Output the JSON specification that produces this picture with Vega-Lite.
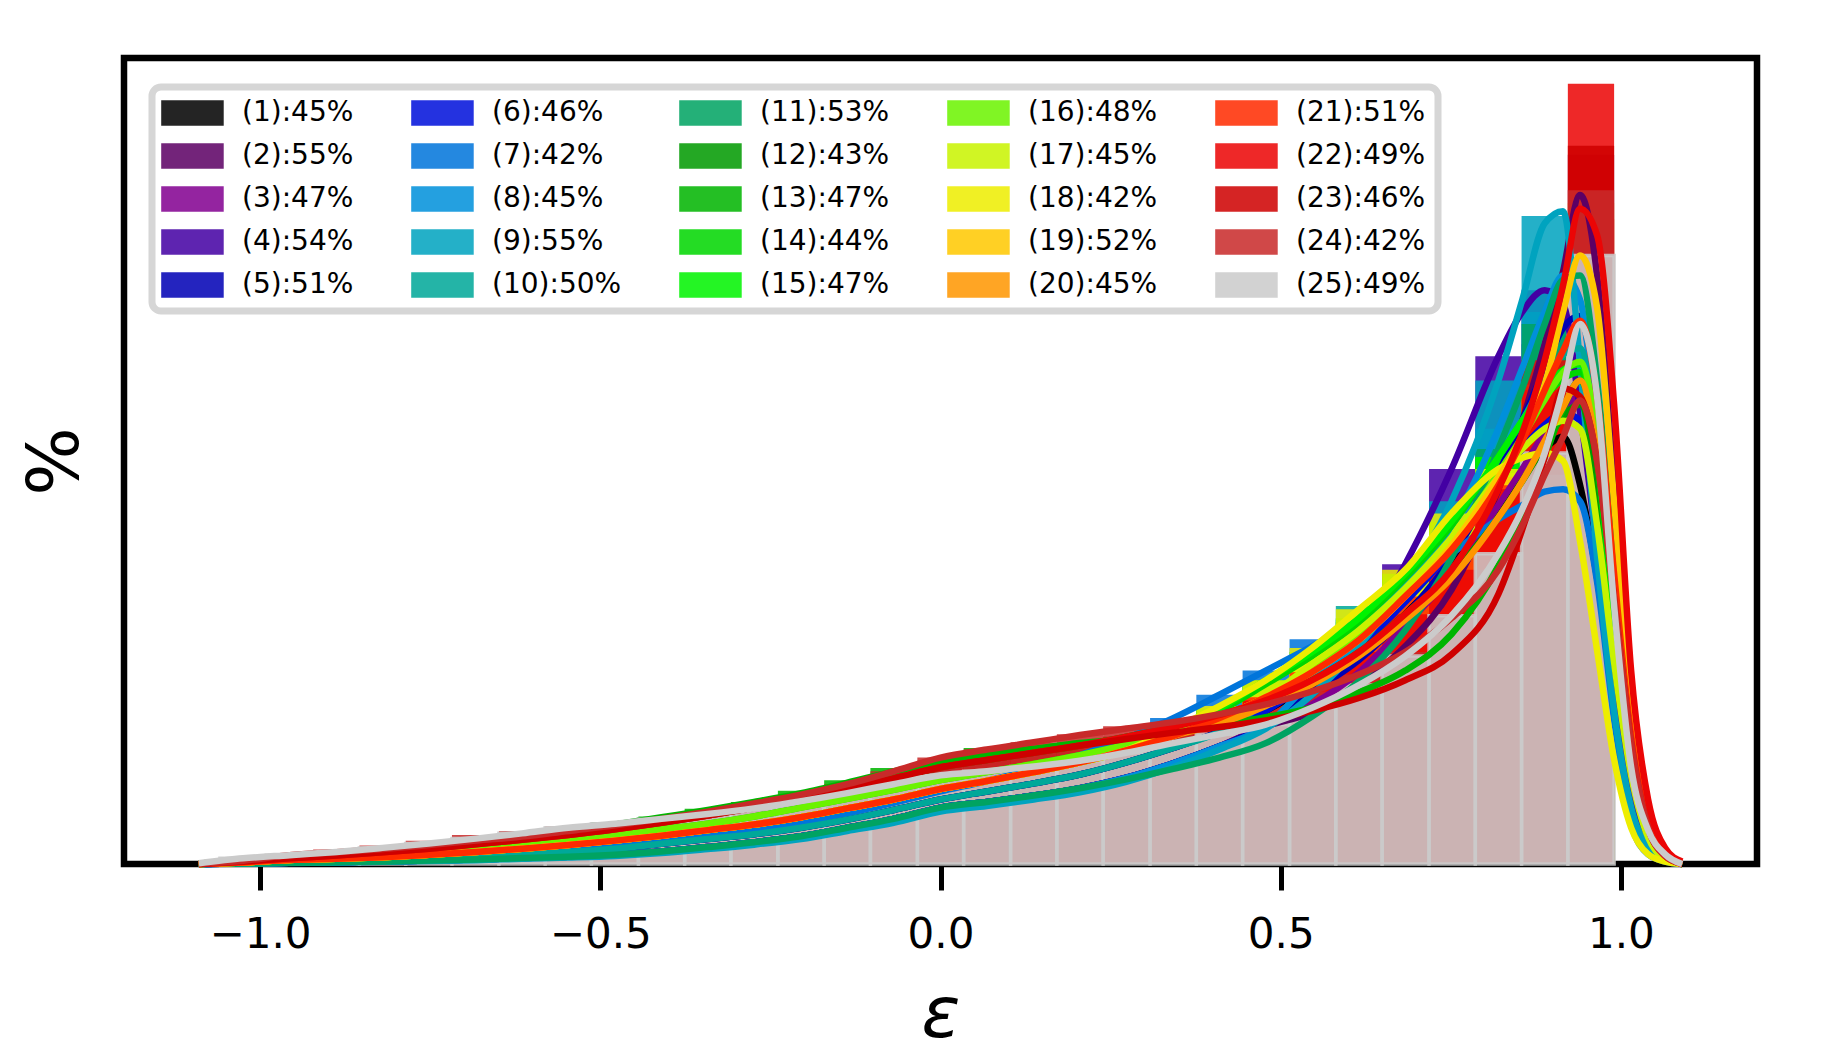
{
  "$schema": "https://vega.github.io/schema/vega-lite/v6.json",
  "width": 1633,
  "height": 806,
  "autosize": {"type": "none"},
  "padding": {"left": 124, "top": 58, "right": 91, "bottom": 192},
  "background": "white",
  "config": {
    "view": {"stroke": "black", "strokeWidth": 6.5},
    "axis": {"labelFont": "DejaVu Sans", "titleFont": "DejaVu Sans", "labelColor": "black", "titleColor": "black", "grid": false},
    "legend": {"strokeWidth": 7}
  },
  "datasets": {
    "series": [
      {"s":1,"label":"(1):45%"},{"s":2,"label":"(2):55%"},{"s":3,"label":"(3):47%"},{"s":4,"label":"(4):54%"},{"s":5,"label":"(5):51%"},
      {"s":6,"label":"(6):46%"},{"s":7,"label":"(7):42%"},{"s":8,"label":"(8):45%"},{"s":9,"label":"(9):55%"},{"s":10,"label":"(10):50%"},
      {"s":11,"label":"(11):53%"},{"s":12,"label":"(12):43%"},{"s":13,"label":"(13):47%"},{"s":14,"label":"(14):44%"},{"s":15,"label":"(15):47%"},
      {"s":16,"label":"(16):48%"},{"s":17,"label":"(17):45%"},{"s":18,"label":"(18):42%"},{"s":19,"label":"(19):52%"},{"s":20,"label":"(20):45%"},
      {"s":21,"label":"(21):51%"},{"s":22,"label":"(22):49%"},{"s":23,"label":"(23):46%"},{"s":24,"label":"(24):42%"},{"s":25,"label":"(25):49%"}
    ],
    "bins": [
      {"k":0,"x0":-1.059,"x1":-0.991},{"k":1,"x0":-0.991,"x1":-0.922},{"k":2,"x0":-0.922,"x1":-0.854},{"k":3,"x0":-0.854,"x1":-0.786},{"k":4,"x0":-0.786,"x1":-0.718},
      {"k":5,"x0":-0.718,"x1":-0.649},{"k":6,"x0":-0.649,"x1":-0.581},{"k":7,"x0":-0.581,"x1":-0.513},{"k":8,"x0":-0.513,"x1":-0.444},{"k":9,"x0":-0.444,"x1":-0.376},
      {"k":10,"x0":-0.376,"x1":-0.308},{"k":11,"x0":-0.308,"x1":-0.239},{"k":12,"x0":-0.239,"x1":-0.171},{"k":13,"x0":-0.171,"x1":-0.103},{"k":14,"x0":-0.103,"x1":-0.034},
      {"k":15,"x0":-0.034,"x1":0.034},{"k":16,"x0":0.034,"x1":0.103},{"k":17,"x0":0.103,"x1":0.171},{"k":18,"x0":0.171,"x1":0.239},{"k":19,"x0":0.239,"x1":0.308},
      {"k":20,"x0":0.308,"x1":0.376},{"k":21,"x0":0.376,"x1":0.444},{"k":22,"x0":0.444,"x1":0.513},{"k":23,"x0":0.513,"x1":0.581},{"k":24,"x0":0.581,"x1":0.649},
      {"k":25,"x0":0.649,"x1":0.718},{"k":26,"x0":0.718,"x1":0.786},{"k":27,"x0":0.786,"x1":0.854},{"k":28,"x0":0.854,"x1":0.922},{"k":29,"x0":0.922,"x1":0.99}
    ],
    "bars": [
      {"s":1,"k":0,"h":0.1},{"s":1,"k":1,"h":0.25},{"s":1,"k":2,"h":0.35},{"s":1,"k":3,"h":0.5},{"s":1,"k":4,"h":0.75},{"s":1,"k":5,"h":1},{"s":1,"k":6,"h":1.25},{"s":1,"k":7,"h":1.5},{"s":1,"k":8,"h":1.9},{"s":1,"k":9,"h":2.5},{"s":1,"k":10,"h":3.1},{"s":1,"k":11,"h":3.7},{"s":1,"k":12,"h":4.5},{"s":1,"k":13,"h":5.5},{"s":1,"k":14,"h":6.7},{"s":1,"k":15,"h":8},{"s":1,"k":16,"h":9},{"s":1,"k":17,"h":10},{"s":1,"k":18,"h":11.1},{"s":1,"k":19,"h":12.6},{"s":1,"k":20,"h":14.4},{"s":1,"k":21,"h":16.4},{"s":1,"k":22,"h":19},{"s":1,"k":23,"h":22.3},{"s":1,"k":24,"h":25.8},{"s":1,"k":25,"h":31},{"s":1,"k":26,"h":37},{"s":1,"k":27,"h":44},{"s":1,"k":28,"h":51.5},{"s":1,"k":29,"h":50},
      {"s":2,"k":0,"h":0.05},{"s":2,"k":1,"h":0.15},{"s":2,"k":2,"h":0.22},{"s":2,"k":3,"h":0.32},{"s":2,"k":4,"h":0.42},{"s":2,"k":5,"h":0.55},{"s":2,"k":6,"h":0.75},{"s":2,"k":7,"h":0.9},{"s":2,"k":8,"h":1.15},{"s":2,"k":9,"h":1.55},{"s":2,"k":10,"h":2.1},{"s":2,"k":11,"h":2.7},{"s":2,"k":12,"h":3.45},{"s":2,"k":13,"h":4.5},{"s":2,"k":14,"h":5.6},{"s":2,"k":15,"h":7},{"s":2,"k":16,"h":7.7},{"s":2,"k":17,"h":8.5},{"s":2,"k":18,"h":9.4},{"s":2,"k":19,"h":10.7},{"s":2,"k":20,"h":12.5},{"s":2,"k":21,"h":14.6},{"s":2,"k":22,"h":17.1},{"s":2,"k":23,"h":18.8},{"s":2,"k":24,"h":22.3},{"s":2,"k":25,"h":27},{"s":2,"k":26,"h":34},{"s":2,"k":27,"h":46.5},{"s":2,"k":28,"h":64.5},{"s":2,"k":29,"h":88},
      {"s":3,"k":0,"h":0.05},{"s":3,"k":1,"h":0.15},{"s":3,"k":2,"h":0.22},{"s":3,"k":3,"h":0.32},{"s":3,"k":4,"h":0.42},{"s":3,"k":5,"h":0.55},{"s":3,"k":6,"h":0.75},{"s":3,"k":7,"h":0.9},{"s":3,"k":8,"h":1.15},{"s":3,"k":9,"h":1.55},{"s":3,"k":10,"h":2.1},{"s":3,"k":11,"h":2.7},{"s":3,"k":12,"h":3.45},{"s":3,"k":13,"h":4.5},{"s":3,"k":14,"h":5.6},{"s":3,"k":15,"h":7},{"s":3,"k":16,"h":7.7},{"s":3,"k":17,"h":8.5},{"s":3,"k":18,"h":9.4},{"s":3,"k":19,"h":10.7},{"s":3,"k":20,"h":12.5},{"s":3,"k":21,"h":14.6},{"s":3,"k":22,"h":17.1},{"s":3,"k":23,"h":19.8},{"s":3,"k":24,"h":23.8},{"s":3,"k":25,"h":29.5},{"s":3,"k":26,"h":36},{"s":3,"k":27,"h":44.5},{"s":3,"k":28,"h":53.5},{"s":3,"k":29,"h":62},
      {"s":4,"k":0,"h":0.05},{"s":4,"k":1,"h":0.15},{"s":4,"k":2,"h":0.22},{"s":4,"k":3,"h":0.32},{"s":4,"k":4,"h":0.42},{"s":4,"k":5,"h":0.55},{"s":4,"k":6,"h":0.75},{"s":4,"k":7,"h":0.9},{"s":4,"k":8,"h":1.15},{"s":4,"k":9,"h":1.55},{"s":4,"k":10,"h":2.1},{"s":4,"k":11,"h":2.7},{"s":4,"k":12,"h":3.45},{"s":4,"k":13,"h":4.5},{"s":4,"k":14,"h":5.6},{"s":4,"k":15,"h":7},{"s":4,"k":16,"h":7.7},{"s":4,"k":17,"h":8.5},{"s":4,"k":18,"h":9.4},{"s":4,"k":19,"h":10.7},{"s":4,"k":20,"h":12.5},{"s":4,"k":21,"h":14.6},{"s":4,"k":22,"h":17.1},{"s":4,"k":23,"h":21},{"s":4,"k":24,"h":27.5},{"s":4,"k":25,"h":37.2},{"s":4,"k":26,"h":49},{"s":4,"k":27,"h":63},{"s":4,"k":28,"h":71.2},{"s":4,"k":29,"h":55},
      {"s":5,"k":0,"h":0.05},{"s":5,"k":1,"h":0.15},{"s":5,"k":2,"h":0.22},{"s":5,"k":3,"h":0.32},{"s":5,"k":4,"h":0.42},{"s":5,"k":5,"h":0.55},{"s":5,"k":6,"h":0.75},{"s":5,"k":7,"h":0.9},{"s":5,"k":8,"h":1.15},{"s":5,"k":9,"h":1.55},{"s":5,"k":10,"h":2.1},{"s":5,"k":11,"h":2.7},{"s":5,"k":12,"h":3.45},{"s":5,"k":13,"h":4.5},{"s":5,"k":14,"h":5.6},{"s":5,"k":15,"h":7},{"s":5,"k":16,"h":7.7},{"s":5,"k":17,"h":8.5},{"s":5,"k":18,"h":9.4},{"s":5,"k":19,"h":10.7},{"s":5,"k":20,"h":12.5},{"s":5,"k":21,"h":14.6},{"s":5,"k":22,"h":17.1},{"s":5,"k":23,"h":21.3},{"s":5,"k":24,"h":25.3},{"s":5,"k":25,"h":30.8},{"s":5,"k":26,"h":38},{"s":5,"k":27,"h":48.5},{"s":5,"k":28,"h":61.5},{"s":5,"k":29,"h":72},
      {"s":6,"k":0,"h":0.1},{"s":6,"k":1,"h":0.25},{"s":6,"k":2,"h":0.35},{"s":6,"k":3,"h":0.5},{"s":6,"k":4,"h":0.75},{"s":6,"k":5,"h":1},{"s":6,"k":6,"h":1.25},{"s":6,"k":7,"h":1.5},{"s":6,"k":8,"h":1.9},{"s":6,"k":9,"h":2.5},{"s":6,"k":10,"h":3.1},{"s":6,"k":11,"h":3.7},{"s":6,"k":12,"h":4.5},{"s":6,"k":13,"h":5.5},{"s":6,"k":14,"h":6.7},{"s":6,"k":15,"h":8},{"s":6,"k":16,"h":9},{"s":6,"k":17,"h":10},{"s":6,"k":18,"h":11.1},{"s":6,"k":19,"h":12.6},{"s":6,"k":20,"h":14.4},{"s":6,"k":21,"h":16.4},{"s":6,"k":22,"h":19},{"s":6,"k":23,"h":22.8},{"s":6,"k":24,"h":27},{"s":6,"k":25,"h":32.5},{"s":6,"k":26,"h":39},{"s":6,"k":27,"h":47.5},{"s":6,"k":28,"h":54.5},{"s":6,"k":29,"h":58},
      {"s":7,"k":0,"h":0.1},{"s":7,"k":1,"h":0.25},{"s":7,"k":2,"h":0.4},{"s":7,"k":3,"h":0.55},{"s":7,"k":4,"h":0.8},{"s":7,"k":5,"h":1.1},{"s":7,"k":6,"h":1.45},{"s":7,"k":7,"h":1.85},{"s":7,"k":8,"h":2.3},{"s":7,"k":9,"h":2.9},{"s":7,"k":10,"h":3.6},{"s":7,"k":11,"h":4.3},{"s":7,"k":12,"h":5.2},{"s":7,"k":13,"h":6.3},{"s":7,"k":14,"h":7.6},{"s":7,"k":15,"h":9},{"s":7,"k":16,"h":10.3},{"s":7,"k":17,"h":11.8},{"s":7,"k":18,"h":13.5},{"s":7,"k":19,"h":15.6},{"s":7,"k":20,"h":18.1},{"s":7,"k":21,"h":21},{"s":7,"k":22,"h":24},{"s":7,"k":23,"h":27.9},{"s":7,"k":24,"h":30.3},{"s":7,"k":25,"h":34.3},{"s":7,"k":26,"h":38.5},{"s":7,"k":27,"h":42.8},{"s":7,"k":28,"h":46.2},{"s":7,"k":29,"h":42},
      {"s":8,"k":0,"h":0.05},{"s":8,"k":1,"h":0.15},{"s":8,"k":2,"h":0.22},{"s":8,"k":3,"h":0.32},{"s":8,"k":4,"h":0.42},{"s":8,"k":5,"h":0.55},{"s":8,"k":6,"h":0.75},{"s":8,"k":7,"h":0.9},{"s":8,"k":8,"h":1.15},{"s":8,"k":9,"h":1.55},{"s":8,"k":10,"h":2.1},{"s":8,"k":11,"h":2.7},{"s":8,"k":12,"h":3.45},{"s":8,"k":13,"h":4.5},{"s":8,"k":14,"h":5.6},{"s":8,"k":15,"h":7},{"s":8,"k":16,"h":7.7},{"s":8,"k":17,"h":8.5},{"s":8,"k":18,"h":9.4},{"s":8,"k":19,"h":10.7},{"s":8,"k":20,"h":12.5},{"s":8,"k":21,"h":14.6},{"s":8,"k":22,"h":17.1},{"s":8,"k":23,"h":22.8},{"s":8,"k":24,"h":27.6},{"s":8,"k":25,"h":34},{"s":8,"k":26,"h":42},{"s":8,"k":27,"h":54},{"s":8,"k":28,"h":68.5},{"s":8,"k":29,"h":70},
      {"s":9,"k":0,"h":0.04},{"s":9,"k":1,"h":0.12},{"s":9,"k":2,"h":0.18},{"s":9,"k":3,"h":0.27},{"s":9,"k":4,"h":0.36},{"s":9,"k":5,"h":0.48},{"s":9,"k":6,"h":0.65},{"s":9,"k":7,"h":0.8},{"s":9,"k":8,"h":1},{"s":9,"k":9,"h":1.35},{"s":9,"k":10,"h":1.85},{"s":9,"k":11,"h":2.4},{"s":9,"k":12,"h":3.1},{"s":9,"k":13,"h":4.1},{"s":9,"k":14,"h":5.1},{"s":9,"k":15,"h":6.5},{"s":9,"k":16,"h":7.2},{"s":9,"k":17,"h":8},{"s":9,"k":18,"h":8.9},{"s":9,"k":19,"h":10.2},{"s":9,"k":20,"h":12},{"s":9,"k":21,"h":14.2},{"s":9,"k":22,"h":16.8},{"s":9,"k":23,"h":21},{"s":9,"k":24,"h":27},{"s":9,"k":25,"h":35},{"s":9,"k":26,"h":45},{"s":9,"k":27,"h":60},{"s":9,"k":28,"h":80.4},{"s":9,"k":29,"h":62},
      {"s":10,"k":0,"h":0.1},{"s":10,"k":1,"h":0.25},{"s":10,"k":2,"h":0.35},{"s":10,"k":3,"h":0.5},{"s":10,"k":4,"h":0.75},{"s":10,"k":5,"h":1},{"s":10,"k":6,"h":1.25},{"s":10,"k":7,"h":1.5},{"s":10,"k":8,"h":1.9},{"s":10,"k":9,"h":2.5},{"s":10,"k":10,"h":3.1},{"s":10,"k":11,"h":3.7},{"s":10,"k":12,"h":4.5},{"s":10,"k":13,"h":5.5},{"s":10,"k":14,"h":6.7},{"s":10,"k":15,"h":8},{"s":10,"k":16,"h":9},{"s":10,"k":17,"h":10},{"s":10,"k":18,"h":11.1},{"s":10,"k":19,"h":12.6},{"s":10,"k":20,"h":14.4},{"s":10,"k":21,"h":16.4},{"s":10,"k":22,"h":20},{"s":10,"k":23,"h":24.3},{"s":10,"k":24,"h":32},{"s":10,"k":25,"h":35},{"s":10,"k":26,"h":42},{"s":10,"k":27,"h":50.5},{"s":10,"k":28,"h":60},{"s":10,"k":29,"h":68},
      {"s":11,"k":0,"h":0.05},{"s":11,"k":1,"h":0.15},{"s":11,"k":2,"h":0.22},{"s":11,"k":3,"h":0.32},{"s":11,"k":4,"h":0.42},{"s":11,"k":5,"h":0.55},{"s":11,"k":6,"h":0.75},{"s":11,"k":7,"h":0.9},{"s":11,"k":8,"h":1.15},{"s":11,"k":9,"h":1.55},{"s":11,"k":10,"h":2.1},{"s":11,"k":11,"h":2.7},{"s":11,"k":12,"h":3.45},{"s":11,"k":13,"h":4.5},{"s":11,"k":14,"h":5.6},{"s":11,"k":15,"h":7},{"s":11,"k":16,"h":7.7},{"s":11,"k":17,"h":8.5},{"s":11,"k":18,"h":9.4},{"s":11,"k":19,"h":10.5},{"s":11,"k":20,"h":11.8},{"s":11,"k":21,"h":13.2},{"s":11,"k":22,"h":15},{"s":11,"k":23,"h":18.3},{"s":11,"k":24,"h":22.7},{"s":11,"k":25,"h":29},{"s":11,"k":26,"h":38},{"s":11,"k":27,"h":51.5},{"s":11,"k":28,"h":67},{"s":11,"k":29,"h":75},
      {"s":12,"k":0,"h":0.3},{"s":12,"k":1,"h":0.7},{"s":12,"k":2,"h":1.05},{"s":12,"k":3,"h":1.45},{"s":12,"k":4,"h":1.9},{"s":12,"k":5,"h":2.45},{"s":12,"k":6,"h":3},{"s":12,"k":7,"h":3.6},{"s":12,"k":8,"h":4.3},{"s":12,"k":9,"h":5.1},{"s":12,"k":10,"h":6},{"s":12,"k":11,"h":7},{"s":12,"k":12,"h":8.1},{"s":12,"k":13,"h":9.3},{"s":12,"k":14,"h":10.6},{"s":12,"k":15,"h":12},{"s":12,"k":16,"h":12.9},{"s":12,"k":17,"h":13.8},{"s":12,"k":18,"h":14.7},{"s":12,"k":19,"h":15.8},{"s":12,"k":20,"h":17},{"s":12,"k":21,"h":18.5},{"s":12,"k":22,"h":20.3},{"s":12,"k":23,"h":22.8},{"s":12,"k":24,"h":26.3},{"s":12,"k":25,"h":31},{"s":12,"k":26,"h":36},{"s":12,"k":27,"h":43},{"s":12,"k":28,"h":52},{"s":12,"k":29,"h":60},
      {"s":13,"k":0,"h":0.3},{"s":13,"k":1,"h":0.75},{"s":13,"k":2,"h":1.1},{"s":13,"k":3,"h":1.5},{"s":13,"k":4,"h":2},{"s":13,"k":5,"h":2.6},{"s":13,"k":6,"h":3.2},{"s":13,"k":7,"h":3.9},{"s":13,"k":8,"h":5.2},{"s":13,"k":9,"h":5.9},{"s":13,"k":10,"h":6.85},{"s":13,"k":11,"h":7.7},{"s":13,"k":12,"h":9.1},{"s":13,"k":13,"h":10.4},{"s":13,"k":14,"h":11.9},{"s":13,"k":15,"h":12.8},{"s":13,"k":16,"h":14.4},{"s":13,"k":17,"h":14.3},{"s":13,"k":18,"h":15},{"s":13,"k":19,"h":15.5},{"s":13,"k":20,"h":16.3},{"s":13,"k":21,"h":17.3},{"s":13,"k":22,"h":18.2},{"s":13,"k":23,"h":19.4},{"s":13,"k":24,"h":21.3},{"s":13,"k":25,"h":24},{"s":13,"k":26,"h":28.5},{"s":13,"k":27,"h":37},{"s":13,"k":28,"h":50.5},{"s":13,"k":29,"h":64},
      {"s":14,"k":0,"h":0.4},{"s":14,"k":1,"h":0.65},{"s":14,"k":2,"h":0.9},{"s":14,"k":3,"h":1.2},{"s":14,"k":4,"h":1.6},{"s":14,"k":5,"h":2},{"s":14,"k":6,"h":2.5},{"s":14,"k":7,"h":3},{"s":14,"k":8,"h":3.6},{"s":14,"k":9,"h":4.3},{"s":14,"k":10,"h":5},{"s":14,"k":11,"h":5.9},{"s":14,"k":12,"h":7},{"s":14,"k":13,"h":8.1},{"s":14,"k":14,"h":9.2},{"s":14,"k":15,"h":10.4},{"s":14,"k":16,"h":11.4},{"s":14,"k":17,"h":12.4},{"s":14,"k":18,"h":13.5},{"s":14,"k":19,"h":14.8},{"s":14,"k":20,"h":16.6},{"s":14,"k":21,"h":19},{"s":14,"k":22,"h":22.3},{"s":14,"k":23,"h":25.8},{"s":14,"k":24,"h":30},{"s":14,"k":25,"h":35.5},{"s":14,"k":26,"h":42},{"s":14,"k":27,"h":50.5},{"s":14,"k":28,"h":58},{"s":14,"k":29,"h":63},
      {"s":15,"k":0,"h":0.2},{"s":15,"k":1,"h":0.5},{"s":15,"k":2,"h":0.65},{"s":15,"k":3,"h":0.85},{"s":15,"k":4,"h":1.15},{"s":15,"k":5,"h":1.5},{"s":15,"k":6,"h":1.9},{"s":15,"k":7,"h":2.35},{"s":15,"k":8,"h":2.9},{"s":15,"k":9,"h":3.5},{"s":15,"k":10,"h":4.2},{"s":15,"k":11,"h":4.9},{"s":15,"k":12,"h":5.8},{"s":15,"k":13,"h":6.9},{"s":15,"k":14,"h":8},{"s":15,"k":15,"h":9.3},{"s":15,"k":16,"h":10.3},{"s":15,"k":17,"h":11.4},{"s":15,"k":18,"h":12.6},{"s":15,"k":19,"h":14.1},{"s":15,"k":20,"h":16.6},{"s":15,"k":21,"h":19.3},{"s":15,"k":22,"h":22.8},{"s":15,"k":23,"h":26.3},{"s":15,"k":24,"h":30.5},{"s":15,"k":25,"h":36},{"s":15,"k":26,"h":42.5},{"s":15,"k":27,"h":50.5},{"s":15,"k":28,"h":58.8},{"s":15,"k":29,"h":66},
      {"s":16,"k":0,"h":0.4},{"s":16,"k":1,"h":0.65},{"s":16,"k":2,"h":0.9},{"s":16,"k":3,"h":1.2},{"s":16,"k":4,"h":1.6},{"s":16,"k":5,"h":2},{"s":16,"k":6,"h":2.5},{"s":16,"k":7,"h":3},{"s":16,"k":8,"h":3.6},{"s":16,"k":9,"h":4.3},{"s":16,"k":10,"h":5},{"s":16,"k":11,"h":5.9},{"s":16,"k":12,"h":7},{"s":16,"k":13,"h":8.1},{"s":16,"k":14,"h":9.2},{"s":16,"k":15,"h":10.4},{"s":16,"k":16,"h":11.4},{"s":16,"k":17,"h":12.4},{"s":16,"k":18,"h":13.5},{"s":16,"k":19,"h":14.8},{"s":16,"k":20,"h":16.4},{"s":16,"k":21,"h":18.3},{"s":16,"k":22,"h":20.6},{"s":16,"k":23,"h":24.3},{"s":16,"k":24,"h":28.5},{"s":16,"k":25,"h":33.6},{"s":16,"k":26,"h":40},{"s":16,"k":27,"h":48.5},{"s":16,"k":28,"h":57.6},{"s":16,"k":29,"h":66},
      {"s":17,"k":0,"h":0.2},{"s":17,"k":1,"h":0.5},{"s":17,"k":2,"h":0.65},{"s":17,"k":3,"h":0.85},{"s":17,"k":4,"h":1.15},{"s":17,"k":5,"h":1.5},{"s":17,"k":6,"h":1.9},{"s":17,"k":7,"h":2.35},{"s":17,"k":8,"h":2.9},{"s":17,"k":9,"h":3.5},{"s":17,"k":10,"h":4.2},{"s":17,"k":11,"h":4.9},{"s":17,"k":12,"h":5.8},{"s":17,"k":13,"h":6.9},{"s":17,"k":14,"h":8},{"s":17,"k":15,"h":9.3},{"s":17,"k":16,"h":10.3},{"s":17,"k":17,"h":11.4},{"s":17,"k":18,"h":12.6},{"s":17,"k":19,"h":14.1},{"s":17,"k":20,"h":15.9},{"s":17,"k":21,"h":18.1},{"s":17,"k":22,"h":20.7},{"s":17,"k":23,"h":24.8},{"s":17,"k":24,"h":29},{"s":17,"k":25,"h":34.2},{"s":17,"k":26,"h":40.5},{"s":17,"k":27,"h":48},{"s":17,"k":28,"h":54},{"s":17,"k":29,"h":55},
      {"s":18,"k":0,"h":0.2},{"s":18,"k":1,"h":0.5},{"s":18,"k":2,"h":0.65},{"s":18,"k":3,"h":0.85},{"s":18,"k":4,"h":1.15},{"s":18,"k":5,"h":1.5},{"s":18,"k":6,"h":1.9},{"s":18,"k":7,"h":2.35},{"s":18,"k":8,"h":2.9},{"s":18,"k":9,"h":3.5},{"s":18,"k":10,"h":4.2},{"s":18,"k":11,"h":4.9},{"s":18,"k":12,"h":5.8},{"s":18,"k":13,"h":6.9},{"s":18,"k":14,"h":8},{"s":18,"k":15,"h":9.3},{"s":18,"k":16,"h":10.3},{"s":18,"k":17,"h":11.4},{"s":18,"k":18,"h":12.6},{"s":18,"k":19,"h":14.1},{"s":18,"k":20,"h":16.8},{"s":18,"k":21,"h":19.6},{"s":18,"k":22,"h":22.8},{"s":18,"k":23,"h":26.8},{"s":18,"k":24,"h":31.6},{"s":18,"k":25,"h":36.5},{"s":18,"k":26,"h":43.5},{"s":18,"k":27,"h":49},{"s":18,"k":28,"h":51},{"s":18,"k":29,"h":40},
      {"s":19,"k":0,"h":0.2},{"s":19,"k":1,"h":0.5},{"s":19,"k":2,"h":0.65},{"s":19,"k":3,"h":0.85},{"s":19,"k":4,"h":1.15},{"s":19,"k":5,"h":1.5},{"s":19,"k":6,"h":1.9},{"s":19,"k":7,"h":2.35},{"s":19,"k":8,"h":2.9},{"s":19,"k":9,"h":3.5},{"s":19,"k":10,"h":4.2},{"s":19,"k":11,"h":4.9},{"s":19,"k":12,"h":5.8},{"s":19,"k":13,"h":6.9},{"s":19,"k":14,"h":8},{"s":19,"k":15,"h":9.3},{"s":19,"k":16,"h":10.3},{"s":19,"k":17,"h":11.4},{"s":19,"k":18,"h":12.6},{"s":19,"k":19,"h":14.1},{"s":19,"k":20,"h":15.9},{"s":19,"k":21,"h":18.1},{"s":19,"k":22,"h":20.7},{"s":19,"k":23,"h":23.8},{"s":19,"k":24,"h":27.8},{"s":19,"k":25,"h":33.2},{"s":19,"k":26,"h":39.5},{"s":19,"k":27,"h":48},{"s":19,"k":28,"h":59.5},{"s":19,"k":29,"h":82},
      {"s":20,"k":0,"h":0.2},{"s":20,"k":1,"h":0.5},{"s":20,"k":2,"h":0.65},{"s":20,"k":3,"h":0.85},{"s":20,"k":4,"h":1.15},{"s":20,"k":5,"h":1.5},{"s":20,"k":6,"h":1.9},{"s":20,"k":7,"h":2.35},{"s":20,"k":8,"h":2.9},{"s":20,"k":9,"h":3.5},{"s":20,"k":10,"h":4.2},{"s":20,"k":11,"h":4.9},{"s":20,"k":12,"h":5.8},{"s":20,"k":13,"h":6.9},{"s":20,"k":14,"h":8},{"s":20,"k":15,"h":9.3},{"s":20,"k":16,"h":10.3},{"s":20,"k":17,"h":11.4},{"s":20,"k":18,"h":12.6},{"s":20,"k":19,"h":14.1},{"s":20,"k":20,"h":15.9},{"s":20,"k":21,"h":17.4},{"s":20,"k":22,"h":19.6},{"s":20,"k":23,"h":22.3},{"s":20,"k":24,"h":25.8},{"s":20,"k":25,"h":30.3},{"s":20,"k":26,"h":35.5},{"s":20,"k":27,"h":43},{"s":20,"k":28,"h":52.5},{"s":20,"k":29,"h":64},
      {"s":21,"k":0,"h":0.2},{"s":21,"k":1,"h":0.5},{"s":21,"k":2,"h":0.65},{"s":21,"k":3,"h":0.85},{"s":21,"k":4,"h":1.15},{"s":21,"k":5,"h":1.5},{"s":21,"k":6,"h":1.9},{"s":21,"k":7,"h":2.35},{"s":21,"k":8,"h":2.9},{"s":21,"k":9,"h":3.5},{"s":21,"k":10,"h":4.2},{"s":21,"k":11,"h":4.9},{"s":21,"k":12,"h":5.8},{"s":21,"k":13,"h":6.9},{"s":21,"k":14,"h":8},{"s":21,"k":15,"h":9.3},{"s":21,"k":16,"h":10.3},{"s":21,"k":17,"h":11.4},{"s":21,"k":18,"h":12.6},{"s":21,"k":19,"h":14.1},{"s":21,"k":20,"h":15.9},{"s":21,"k":21,"h":18.1},{"s":21,"k":22,"h":20.7},{"s":21,"k":23,"h":23.8},{"s":21,"k":24,"h":27.8},{"s":21,"k":25,"h":33.2},{"s":21,"k":26,"h":39},{"s":21,"k":27,"h":47},{"s":21,"k":28,"h":58.8},{"s":21,"k":29,"h":80},
      {"s":22,"k":0,"h":0.3},{"s":22,"k":1,"h":0.7},{"s":22,"k":2,"h":1.05},{"s":22,"k":3,"h":1.45},{"s":22,"k":4,"h":1.9},{"s":22,"k":5,"h":2.45},{"s":22,"k":6,"h":3},{"s":22,"k":7,"h":3.6},{"s":22,"k":8,"h":4.3},{"s":22,"k":9,"h":5.1},{"s":22,"k":10,"h":6},{"s":22,"k":11,"h":7},{"s":22,"k":12,"h":8.1},{"s":22,"k":13,"h":9.3},{"s":22,"k":14,"h":10.6},{"s":22,"k":15,"h":12},{"s":22,"k":16,"h":12.9},{"s":22,"k":17,"h":13.8},{"s":22,"k":18,"h":14.7},{"s":22,"k":19,"h":15.8},{"s":22,"k":20,"h":17},{"s":22,"k":21,"h":18.5},{"s":22,"k":22,"h":20.3},{"s":22,"k":23,"h":22.8},{"s":22,"k":24,"h":26.3},{"s":22,"k":25,"h":31},{"s":22,"k":26,"h":36.5},{"s":22,"k":27,"h":46.5},{"s":22,"k":28,"h":62.5},{"s":22,"k":29,"h":96.8},
      {"s":23,"k":0,"h":0.3},{"s":23,"k":1,"h":0.7},{"s":23,"k":2,"h":1.05},{"s":23,"k":3,"h":1.45},{"s":23,"k":4,"h":1.9},{"s":23,"k":5,"h":2.45},{"s":23,"k":6,"h":3},{"s":23,"k":7,"h":3.6},{"s":23,"k":8,"h":4.3},{"s":23,"k":9,"h":5.1},{"s":23,"k":10,"h":6},{"s":23,"k":11,"h":7},{"s":23,"k":12,"h":8.1},{"s":23,"k":13,"h":9.3},{"s":23,"k":14,"h":10.6},{"s":23,"k":15,"h":12},{"s":23,"k":16,"h":12.9},{"s":23,"k":17,"h":13.8},{"s":23,"k":18,"h":14.7},{"s":23,"k":19,"h":15.5},{"s":23,"k":20,"h":16.3},{"s":23,"k":21,"h":17},{"s":23,"k":22,"h":17.8},{"s":23,"k":23,"h":19},{"s":23,"k":24,"h":20.6},{"s":23,"k":25,"h":22.8},{"s":23,"k":26,"h":26},{"s":23,"k":27,"h":33.5},{"s":23,"k":28,"h":50.5},{"s":23,"k":29,"h":89.1},
      {"s":24,"k":0,"h":0.4},{"s":24,"k":1,"h":1.2},{"s":24,"k":2,"h":1.8},{"s":24,"k":3,"h":2.3},{"s":24,"k":4,"h":2.9},{"s":24,"k":5,"h":3.6},{"s":24,"k":6,"h":4.1},{"s":24,"k":7,"h":4.65},{"s":24,"k":8,"h":4.8},{"s":24,"k":9,"h":5.6},{"s":24,"k":10,"h":6.5},{"s":24,"k":11,"h":7.5},{"s":24,"k":12,"h":8.6},{"s":24,"k":13,"h":9.9},{"s":24,"k":14,"h":11.5},{"s":24,"k":15,"h":13.2},{"s":24,"k":16,"h":14.2},{"s":24,"k":17,"h":15.1},{"s":24,"k":18,"h":16.1},{"s":24,"k":19,"h":17.1},{"s":24,"k":20,"h":17.6},{"s":24,"k":21,"h":18.6},{"s":24,"k":22,"h":19.8},{"s":24,"k":23,"h":21.4},{"s":24,"k":24,"h":23.5},{"s":24,"k":25,"h":26.3},{"s":24,"k":26,"h":30.5},{"s":24,"k":27,"h":36.5},{"s":24,"k":28,"h":48.3},{"s":24,"k":29,"h":83.6},
      {"s":25,"k":0,"h":0.7},{"s":25,"k":1,"h":1.1},{"s":25,"k":2,"h":1.5},{"s":25,"k":3,"h":2},{"s":25,"k":4,"h":2.55},{"s":25,"k":5,"h":3.15},{"s":25,"k":6,"h":3.8},{"s":25,"k":7,"h":4.5},{"s":25,"k":8,"h":5},{"s":25,"k":9,"h":5.6},{"s":25,"k":10,"h":6.2},{"s":25,"k":11,"h":6.9},{"s":25,"k":12,"h":7.8},{"s":25,"k":13,"h":8.8},{"s":25,"k":14,"h":9.9},{"s":25,"k":15,"h":11},{"s":25,"k":16,"h":11.5},{"s":25,"k":17,"h":12.1},{"s":25,"k":18,"h":12.8},{"s":25,"k":19,"h":13.8},{"s":25,"k":20,"h":15},{"s":25,"k":21,"h":16.1},{"s":25,"k":22,"h":17.3},{"s":25,"k":23,"h":19.4},{"s":25,"k":24,"h":22.2},{"s":25,"k":25,"h":25.8},{"s":25,"k":26,"h":30.8},{"s":25,"k":27,"h":38.5},{"s":25,"k":28,"h":51},{"s":25,"k":29,"h":75.5}
    ],
    "kde": [
      {"s":1,"x":-1.09,"y":0},{"s":1,"x":-1.025,"y":0.1},{"s":1,"x":-0.957,"y":0.25},{"s":1,"x":-0.888,"y":0.35},{"s":1,"x":-0.82,"y":0.5},{"s":1,"x":-0.752,"y":0.75},{"s":1,"x":-0.683,"y":1},{"s":1,"x":-0.615,"y":1.25},{"s":1,"x":-0.547,"y":1.5},{"s":1,"x":-0.478,"y":1.9},{"s":1,"x":-0.41,"y":2.5},{"s":1,"x":-0.342,"y":3.1},{"s":1,"x":-0.274,"y":3.7},{"s":1,"x":-0.205,"y":4.5},{"s":1,"x":-0.137,"y":5.5},{"s":1,"x":-0.069,"y":6.7},{"s":1,"x":0,"y":8},{"s":1,"x":0.068,"y":9},{"s":1,"x":0.137,"y":10},{"s":1,"x":0.205,"y":11.1},{"s":1,"x":0.273,"y":12.6},{"s":1,"x":0.342,"y":14.4},{"s":1,"x":0.41,"y":16.4},{"s":1,"x":0.478,"y":19},{"s":1,"x":0.546,"y":22.3},{"s":1,"x":0.615,"y":25.8},{"s":1,"x":0.683,"y":31},{"s":1,"x":0.751,"y":37},{"s":1,"x":0.82,"y":44},{"s":1,"x":0.855,"y":48},{"s":1,"x":0.888,"y":51.5},{"s":1,"x":0.915,"y":53},{"s":1,"x":0.94,"y":47},{"s":1,"x":0.965,"y":35.5},{"s":1,"x":0.99,"y":21.5},{"s":1,"x":1.015,"y":10.5},{"s":1,"x":1.04,"y":3.5},{"s":1,"x":1.065,"y":0.8},{"s":1,"x":1.09,"y":0},
      {"s":2,"x":-1.09,"y":0},{"s":2,"x":-1.025,"y":0.05},{"s":2,"x":-0.957,"y":0.15},{"s":2,"x":-0.888,"y":0.22},{"s":2,"x":-0.82,"y":0.32},{"s":2,"x":-0.752,"y":0.42},{"s":2,"x":-0.683,"y":0.55},{"s":2,"x":-0.615,"y":0.75},{"s":2,"x":-0.547,"y":0.9},{"s":2,"x":-0.478,"y":1.15},{"s":2,"x":-0.41,"y":1.55},{"s":2,"x":-0.342,"y":2.1},{"s":2,"x":-0.274,"y":2.7},{"s":2,"x":-0.205,"y":3.45},{"s":2,"x":-0.137,"y":4.5},{"s":2,"x":-0.069,"y":5.6},{"s":2,"x":0,"y":7},{"s":2,"x":0.068,"y":7.7},{"s":2,"x":0.137,"y":8.5},{"s":2,"x":0.205,"y":9.4},{"s":2,"x":0.273,"y":10.7},{"s":2,"x":0.342,"y":12.5},{"s":2,"x":0.41,"y":14.6},{"s":2,"x":0.478,"y":17.1},{"s":2,"x":0.546,"y":18.8},{"s":2,"x":0.615,"y":22.3},{"s":2,"x":0.683,"y":27},{"s":2,"x":0.751,"y":34},{"s":2,"x":0.82,"y":46.5},{"s":2,"x":0.855,"y":55},{"s":2,"x":0.888,"y":64.5},{"s":2,"x":0.915,"y":73.5},{"s":2,"x":0.94,"y":83},{"s":2,"x":0.965,"y":73},{"s":2,"x":0.99,"y":47},{"s":2,"x":1.015,"y":22},{"s":2,"x":1.04,"y":6.5},{"s":2,"x":1.065,"y":1.5},{"s":2,"x":1.09,"y":0},
      {"s":3,"x":-1.09,"y":0},{"s":3,"x":-1.025,"y":0.05},{"s":3,"x":-0.957,"y":0.15},{"s":3,"x":-0.888,"y":0.22},{"s":3,"x":-0.82,"y":0.32},{"s":3,"x":-0.752,"y":0.42},{"s":3,"x":-0.683,"y":0.55},{"s":3,"x":-0.615,"y":0.75},{"s":3,"x":-0.547,"y":0.9},{"s":3,"x":-0.478,"y":1.15},{"s":3,"x":-0.41,"y":1.55},{"s":3,"x":-0.342,"y":2.1},{"s":3,"x":-0.274,"y":2.7},{"s":3,"x":-0.205,"y":3.45},{"s":3,"x":-0.137,"y":4.5},{"s":3,"x":-0.069,"y":5.6},{"s":3,"x":0,"y":7},{"s":3,"x":0.068,"y":7.7},{"s":3,"x":0.137,"y":8.5},{"s":3,"x":0.205,"y":9.4},{"s":3,"x":0.273,"y":10.7},{"s":3,"x":0.342,"y":12.5},{"s":3,"x":0.41,"y":14.6},{"s":3,"x":0.478,"y":17.1},{"s":3,"x":0.546,"y":19.8},{"s":3,"x":0.615,"y":23.8},{"s":3,"x":0.683,"y":29.5},{"s":3,"x":0.751,"y":36},{"s":3,"x":0.82,"y":44.5},{"s":3,"x":0.855,"y":49},{"s":3,"x":0.888,"y":53.5},{"s":3,"x":0.915,"y":56.5},{"s":3,"x":0.94,"y":58},{"s":3,"x":0.965,"y":48},{"s":3,"x":0.99,"y":30},{"s":3,"x":1.015,"y":13},{"s":3,"x":1.04,"y":4},{"s":3,"x":1.065,"y":0.8},{"s":3,"x":1.09,"y":0},
      {"s":4,"x":-1.09,"y":0},{"s":4,"x":-1.025,"y":0.05},{"s":4,"x":-0.957,"y":0.15},{"s":4,"x":-0.888,"y":0.22},{"s":4,"x":-0.82,"y":0.32},{"s":4,"x":-0.752,"y":0.42},{"s":4,"x":-0.683,"y":0.55},{"s":4,"x":-0.615,"y":0.75},{"s":4,"x":-0.547,"y":0.9},{"s":4,"x":-0.478,"y":1.15},{"s":4,"x":-0.41,"y":1.55},{"s":4,"x":-0.342,"y":2.1},{"s":4,"x":-0.274,"y":2.7},{"s":4,"x":-0.205,"y":3.45},{"s":4,"x":-0.137,"y":4.5},{"s":4,"x":-0.069,"y":5.6},{"s":4,"x":0,"y":7},{"s":4,"x":0.068,"y":7.7},{"s":4,"x":0.137,"y":8.5},{"s":4,"x":0.205,"y":9.4},{"s":4,"x":0.273,"y":10.7},{"s":4,"x":0.342,"y":12.5},{"s":4,"x":0.41,"y":14.6},{"s":4,"x":0.478,"y":17.1},{"s":4,"x":0.546,"y":21},{"s":4,"x":0.615,"y":27.5},{"s":4,"x":0.683,"y":37.2},{"s":4,"x":0.751,"y":49},{"s":4,"x":0.82,"y":63},{"s":4,"x":0.855,"y":68.5},{"s":4,"x":0.888,"y":71.2},{"s":4,"x":0.915,"y":69.5},{"s":4,"x":0.94,"y":56},{"s":4,"x":0.965,"y":39},{"s":4,"x":0.99,"y":21},{"s":4,"x":1.015,"y":8.5},{"s":4,"x":1.04,"y":2.5},{"s":4,"x":1.065,"y":0.5},{"s":4,"x":1.09,"y":0},
      {"s":5,"x":-1.09,"y":0},{"s":5,"x":-1.025,"y":0.05},{"s":5,"x":-0.957,"y":0.15},{"s":5,"x":-0.888,"y":0.22},{"s":5,"x":-0.82,"y":0.32},{"s":5,"x":-0.752,"y":0.42},{"s":5,"x":-0.683,"y":0.55},{"s":5,"x":-0.615,"y":0.75},{"s":5,"x":-0.547,"y":0.9},{"s":5,"x":-0.478,"y":1.15},{"s":5,"x":-0.41,"y":1.55},{"s":5,"x":-0.342,"y":2.1},{"s":5,"x":-0.274,"y":2.7},{"s":5,"x":-0.205,"y":3.45},{"s":5,"x":-0.137,"y":4.5},{"s":5,"x":-0.069,"y":5.6},{"s":5,"x":0,"y":7},{"s":5,"x":0.068,"y":7.7},{"s":5,"x":0.137,"y":8.5},{"s":5,"x":0.205,"y":9.4},{"s":5,"x":0.273,"y":10.7},{"s":5,"x":0.342,"y":12.5},{"s":5,"x":0.41,"y":14.6},{"s":5,"x":0.478,"y":17.1},{"s":5,"x":0.546,"y":21.3},{"s":5,"x":0.615,"y":25.3},{"s":5,"x":0.683,"y":30.8},{"s":5,"x":0.751,"y":38},{"s":5,"x":0.82,"y":48.5},{"s":5,"x":0.855,"y":55},{"s":5,"x":0.888,"y":61.5},{"s":5,"x":0.915,"y":66.5},{"s":5,"x":0.94,"y":68},{"s":5,"x":0.965,"y":55},{"s":5,"x":0.99,"y":34},{"s":5,"x":1.015,"y":15},{"s":5,"x":1.04,"y":4.5},{"s":5,"x":1.065,"y":1},{"s":5,"x":1.09,"y":0},
      {"s":6,"x":-1.09,"y":0},{"s":6,"x":-1.025,"y":0.1},{"s":6,"x":-0.957,"y":0.25},{"s":6,"x":-0.888,"y":0.35},{"s":6,"x":-0.82,"y":0.5},{"s":6,"x":-0.752,"y":0.75},{"s":6,"x":-0.683,"y":1},{"s":6,"x":-0.615,"y":1.25},{"s":6,"x":-0.547,"y":1.5},{"s":6,"x":-0.478,"y":1.9},{"s":6,"x":-0.41,"y":2.5},{"s":6,"x":-0.342,"y":3.1},{"s":6,"x":-0.274,"y":3.7},{"s":6,"x":-0.205,"y":4.5},{"s":6,"x":-0.137,"y":5.5},{"s":6,"x":-0.069,"y":6.7},{"s":6,"x":0,"y":8},{"s":6,"x":0.068,"y":9},{"s":6,"x":0.137,"y":10},{"s":6,"x":0.205,"y":11.1},{"s":6,"x":0.273,"y":12.6},{"s":6,"x":0.342,"y":14.4},{"s":6,"x":0.41,"y":16.4},{"s":6,"x":0.478,"y":19},{"s":6,"x":0.546,"y":22.8},{"s":6,"x":0.615,"y":27},{"s":6,"x":0.683,"y":32.5},{"s":6,"x":0.751,"y":39},{"s":6,"x":0.82,"y":47.5},{"s":6,"x":0.855,"y":51.5},{"s":6,"x":0.888,"y":54.5},{"s":6,"x":0.915,"y":56},{"s":6,"x":0.94,"y":55},{"s":6,"x":0.965,"y":44},{"s":6,"x":0.99,"y":27},{"s":6,"x":1.015,"y":12},{"s":6,"x":1.04,"y":3.8},{"s":6,"x":1.065,"y":0.8},{"s":6,"x":1.09,"y":0},
      {"s":7,"x":-1.09,"y":0},{"s":7,"x":-1.025,"y":0.1},{"s":7,"x":-0.957,"y":0.25},{"s":7,"x":-0.888,"y":0.4},{"s":7,"x":-0.82,"y":0.55},{"s":7,"x":-0.752,"y":0.8},{"s":7,"x":-0.683,"y":1.1},{"s":7,"x":-0.615,"y":1.45},{"s":7,"x":-0.547,"y":1.85},{"s":7,"x":-0.478,"y":2.3},{"s":7,"x":-0.41,"y":2.9},{"s":7,"x":-0.342,"y":3.6},{"s":7,"x":-0.274,"y":4.3},{"s":7,"x":-0.205,"y":5.2},{"s":7,"x":-0.137,"y":6.3},{"s":7,"x":-0.069,"y":7.6},{"s":7,"x":0,"y":9},{"s":7,"x":0.068,"y":10.3},{"s":7,"x":0.137,"y":11.8},{"s":7,"x":0.205,"y":13.5},{"s":7,"x":0.273,"y":15.6},{"s":7,"x":0.342,"y":18.1},{"s":7,"x":0.41,"y":21},{"s":7,"x":0.478,"y":24},{"s":7,"x":0.546,"y":27},{"s":7,"x":0.615,"y":30.3},{"s":7,"x":0.683,"y":34.3},{"s":7,"x":0.751,"y":38.5},{"s":7,"x":0.82,"y":42.8},{"s":7,"x":0.855,"y":44.5},{"s":7,"x":0.888,"y":46.2},{"s":7,"x":0.915,"y":46.5},{"s":7,"x":0.94,"y":45},{"s":7,"x":0.965,"y":35},{"s":7,"x":0.99,"y":18},{"s":7,"x":1.015,"y":5},{"s":7,"x":1.04,"y":1.2},{"s":7,"x":1.065,"y":0.3},{"s":7,"x":1.09,"y":0},
      {"s":8,"x":-1.09,"y":0},{"s":8,"x":-1.025,"y":0.05},{"s":8,"x":-0.957,"y":0.15},{"s":8,"x":-0.888,"y":0.22},{"s":8,"x":-0.82,"y":0.32},{"s":8,"x":-0.752,"y":0.42},{"s":8,"x":-0.683,"y":0.55},{"s":8,"x":-0.615,"y":0.75},{"s":8,"x":-0.547,"y":0.9},{"s":8,"x":-0.478,"y":1.15},{"s":8,"x":-0.41,"y":1.55},{"s":8,"x":-0.342,"y":2.1},{"s":8,"x":-0.274,"y":2.7},{"s":8,"x":-0.205,"y":3.45},{"s":8,"x":-0.137,"y":4.5},{"s":8,"x":-0.069,"y":5.6},{"s":8,"x":0,"y":7},{"s":8,"x":0.068,"y":7.7},{"s":8,"x":0.137,"y":8.5},{"s":8,"x":0.205,"y":9.4},{"s":8,"x":0.273,"y":10.7},{"s":8,"x":0.342,"y":12.5},{"s":8,"x":0.41,"y":14.6},{"s":8,"x":0.478,"y":17.1},{"s":8,"x":0.546,"y":22.8},{"s":8,"x":0.615,"y":27.6},{"s":8,"x":0.683,"y":34},{"s":8,"x":0.751,"y":42},{"s":8,"x":0.82,"y":54},{"s":8,"x":0.855,"y":61.5},{"s":8,"x":0.888,"y":68.5},{"s":8,"x":0.915,"y":73},{"s":8,"x":0.94,"y":70},{"s":8,"x":0.965,"y":53},{"s":8,"x":0.99,"y":31},{"s":8,"x":1.015,"y":13},{"s":8,"x":1.04,"y":4},{"s":8,"x":1.065,"y":0.8},{"s":8,"x":1.09,"y":0},
      {"s":9,"x":-1.09,"y":0},{"s":9,"x":-1.025,"y":0.04},{"s":9,"x":-0.957,"y":0.12},{"s":9,"x":-0.888,"y":0.18},{"s":9,"x":-0.82,"y":0.27},{"s":9,"x":-0.752,"y":0.36},{"s":9,"x":-0.683,"y":0.48},{"s":9,"x":-0.615,"y":0.65},{"s":9,"x":-0.547,"y":0.8},{"s":9,"x":-0.478,"y":1},{"s":9,"x":-0.41,"y":1.35},{"s":9,"x":-0.342,"y":1.85},{"s":9,"x":-0.274,"y":2.4},{"s":9,"x":-0.205,"y":3.1},{"s":9,"x":-0.137,"y":4.1},{"s":9,"x":-0.069,"y":5.1},{"s":9,"x":0,"y":6.5},{"s":9,"x":0.068,"y":7.2},{"s":9,"x":0.137,"y":8},{"s":9,"x":0.205,"y":8.9},{"s":9,"x":0.273,"y":10.2},{"s":9,"x":0.342,"y":12},{"s":9,"x":0.41,"y":14.2},{"s":9,"x":0.478,"y":16.8},{"s":9,"x":0.546,"y":21},{"s":9,"x":0.615,"y":27},{"s":9,"x":0.683,"y":35},{"s":9,"x":0.751,"y":45},{"s":9,"x":0.82,"y":60},{"s":9,"x":0.855,"y":70},{"s":9,"x":0.888,"y":79.5},{"s":9,"x":0.915,"y":81},{"s":9,"x":0.94,"y":62},{"s":9,"x":0.965,"y":38},{"s":9,"x":0.99,"y":19},{"s":9,"x":1.015,"y":7},{"s":9,"x":1.04,"y":2},{"s":9,"x":1.065,"y":0.4},{"s":9,"x":1.09,"y":0},
      {"s":10,"x":-1.09,"y":0},{"s":10,"x":-1.025,"y":0.1},{"s":10,"x":-0.957,"y":0.25},{"s":10,"x":-0.888,"y":0.35},{"s":10,"x":-0.82,"y":0.5},{"s":10,"x":-0.752,"y":0.75},{"s":10,"x":-0.683,"y":1},{"s":10,"x":-0.615,"y":1.25},{"s":10,"x":-0.547,"y":1.5},{"s":10,"x":-0.478,"y":1.9},{"s":10,"x":-0.41,"y":2.5},{"s":10,"x":-0.342,"y":3.1},{"s":10,"x":-0.274,"y":3.7},{"s":10,"x":-0.205,"y":4.5},{"s":10,"x":-0.137,"y":5.5},{"s":10,"x":-0.069,"y":6.7},{"s":10,"x":0,"y":8},{"s":10,"x":0.068,"y":9},{"s":10,"x":0.137,"y":10},{"s":10,"x":0.205,"y":11.1},{"s":10,"x":0.273,"y":12.6},{"s":10,"x":0.342,"y":14.4},{"s":10,"x":0.41,"y":16.4},{"s":10,"x":0.478,"y":20},{"s":10,"x":0.546,"y":24.3},{"s":10,"x":0.615,"y":29.2},{"s":10,"x":0.683,"y":35},{"s":10,"x":0.751,"y":42},{"s":10,"x":0.82,"y":50.5},{"s":10,"x":0.855,"y":55},{"s":10,"x":0.888,"y":60},{"s":10,"x":0.915,"y":63.2},{"s":10,"x":0.94,"y":64},{"s":10,"x":0.965,"y":52},{"s":10,"x":0.99,"y":32},{"s":10,"x":1.015,"y":14},{"s":10,"x":1.04,"y":4.5},{"s":10,"x":1.065,"y":1},{"s":10,"x":1.09,"y":0},
      {"s":11,"x":-1.09,"y":0},{"s":11,"x":-1.025,"y":0.05},{"s":11,"x":-0.957,"y":0.15},{"s":11,"x":-0.888,"y":0.22},{"s":11,"x":-0.82,"y":0.32},{"s":11,"x":-0.752,"y":0.42},{"s":11,"x":-0.683,"y":0.55},{"s":11,"x":-0.615,"y":0.75},{"s":11,"x":-0.547,"y":0.9},{"s":11,"x":-0.478,"y":1.15},{"s":11,"x":-0.41,"y":1.55},{"s":11,"x":-0.342,"y":2.1},{"s":11,"x":-0.274,"y":2.7},{"s":11,"x":-0.205,"y":3.45},{"s":11,"x":-0.137,"y":4.5},{"s":11,"x":-0.069,"y":5.6},{"s":11,"x":0,"y":7},{"s":11,"x":0.068,"y":7.7},{"s":11,"x":0.137,"y":8.5},{"s":11,"x":0.205,"y":9.4},{"s":11,"x":0.273,"y":10.5},{"s":11,"x":0.342,"y":11.8},{"s":11,"x":0.41,"y":13.2},{"s":11,"x":0.478,"y":15},{"s":11,"x":0.546,"y":18.3},{"s":11,"x":0.615,"y":22.7},{"s":11,"x":0.683,"y":29},{"s":11,"x":0.751,"y":38},{"s":11,"x":0.82,"y":51.5},{"s":11,"x":0.855,"y":59},{"s":11,"x":0.888,"y":67},{"s":11,"x":0.915,"y":72.5},{"s":11,"x":0.94,"y":73},{"s":11,"x":0.965,"y":60},{"s":11,"x":0.99,"y":37},{"s":11,"x":1.015,"y":16},{"s":11,"x":1.04,"y":5},{"s":11,"x":1.065,"y":1},{"s":11,"x":1.09,"y":0},
      {"s":12,"x":-1.09,"y":0},{"s":12,"x":-1.025,"y":0.3},{"s":12,"x":-0.957,"y":0.7},{"s":12,"x":-0.888,"y":1.05},{"s":12,"x":-0.82,"y":1.45},{"s":12,"x":-0.752,"y":1.9},{"s":12,"x":-0.683,"y":2.45},{"s":12,"x":-0.615,"y":3},{"s":12,"x":-0.547,"y":3.6},{"s":12,"x":-0.478,"y":4.3},{"s":12,"x":-0.41,"y":5.1},{"s":12,"x":-0.342,"y":6},{"s":12,"x":-0.274,"y":7},{"s":12,"x":-0.205,"y":8.1},{"s":12,"x":-0.137,"y":9.3},{"s":12,"x":-0.069,"y":10.6},{"s":12,"x":0,"y":12},{"s":12,"x":0.068,"y":12.9},{"s":12,"x":0.137,"y":13.8},{"s":12,"x":0.205,"y":14.7},{"s":12,"x":0.273,"y":15.8},{"s":12,"x":0.342,"y":17},{"s":12,"x":0.41,"y":18.5},{"s":12,"x":0.478,"y":20.3},{"s":12,"x":0.546,"y":22.8},{"s":12,"x":0.615,"y":26.3},{"s":12,"x":0.683,"y":31},{"s":12,"x":0.751,"y":36},{"s":12,"x":0.82,"y":43},{"s":12,"x":0.855,"y":47.5},{"s":12,"x":0.888,"y":52},{"s":12,"x":0.915,"y":55.5},{"s":12,"x":0.94,"y":57},{"s":12,"x":0.965,"y":47},{"s":12,"x":0.99,"y":29},{"s":12,"x":1.015,"y":13},{"s":12,"x":1.04,"y":4},{"s":12,"x":1.065,"y":0.8},{"s":12,"x":1.09,"y":0},
      {"s":13,"x":-1.09,"y":0},{"s":13,"x":-1.025,"y":0.3},{"s":13,"x":-0.957,"y":0.75},{"s":13,"x":-0.888,"y":1.1},{"s":13,"x":-0.82,"y":1.5},{"s":13,"x":-0.752,"y":2},{"s":13,"x":-0.683,"y":2.6},{"s":13,"x":-0.615,"y":3.2},{"s":13,"x":-0.547,"y":3.9},{"s":13,"x":-0.478,"y":4.9},{"s":13,"x":-0.41,"y":5.8},{"s":13,"x":-0.342,"y":6.7},{"s":13,"x":-0.274,"y":7.7},{"s":13,"x":-0.205,"y":8.8},{"s":13,"x":-0.137,"y":10.1},{"s":13,"x":-0.069,"y":11.5},{"s":13,"x":0,"y":12.6},{"s":13,"x":0.068,"y":13.6},{"s":13,"x":0.137,"y":14.3},{"s":13,"x":0.205,"y":15},{"s":13,"x":0.273,"y":15.5},{"s":13,"x":0.342,"y":16.3},{"s":13,"x":0.41,"y":17.3},{"s":13,"x":0.478,"y":18.2},{"s":13,"x":0.546,"y":19.4},{"s":13,"x":0.615,"y":21.3},{"s":13,"x":0.683,"y":24},{"s":13,"x":0.751,"y":28.5},{"s":13,"x":0.82,"y":37},{"s":13,"x":0.855,"y":43.5},{"s":13,"x":0.888,"y":50.5},{"s":13,"x":0.915,"y":56.5},{"s":13,"x":0.94,"y":60},{"s":13,"x":0.965,"y":52},{"s":13,"x":0.99,"y":33},{"s":13,"x":1.015,"y":15},{"s":13,"x":1.04,"y":4.5},{"s":13,"x":1.065,"y":1},{"s":13,"x":1.09,"y":0},
      {"s":14,"x":-1.09,"y":0.05},{"s":14,"x":-1.025,"y":0.4},{"s":14,"x":-0.957,"y":0.65},{"s":14,"x":-0.888,"y":0.9},{"s":14,"x":-0.82,"y":1.2},{"s":14,"x":-0.752,"y":1.6},{"s":14,"x":-0.683,"y":2},{"s":14,"x":-0.615,"y":2.5},{"s":14,"x":-0.547,"y":3},{"s":14,"x":-0.478,"y":3.6},{"s":14,"x":-0.41,"y":4.3},{"s":14,"x":-0.342,"y":5},{"s":14,"x":-0.274,"y":5.9},{"s":14,"x":-0.205,"y":7},{"s":14,"x":-0.137,"y":8.1},{"s":14,"x":-0.069,"y":9.2},{"s":14,"x":0,"y":10.4},{"s":14,"x":0.068,"y":11.4},{"s":14,"x":0.137,"y":12.4},{"s":14,"x":0.205,"y":13.5},{"s":14,"x":0.273,"y":14.8},{"s":14,"x":0.342,"y":16.6},{"s":14,"x":0.41,"y":19},{"s":14,"x":0.478,"y":22.3},{"s":14,"x":0.546,"y":25.8},{"s":14,"x":0.615,"y":30},{"s":14,"x":0.683,"y":35.5},{"s":14,"x":0.751,"y":42},{"s":14,"x":0.82,"y":50.5},{"s":14,"x":0.855,"y":54.8},{"s":14,"x":0.888,"y":58},{"s":14,"x":0.915,"y":60.2},{"s":14,"x":0.94,"y":61},{"s":14,"x":0.965,"y":50},{"s":14,"x":0.99,"y":30},{"s":14,"x":1.015,"y":13},{"s":14,"x":1.04,"y":4},{"s":14,"x":1.065,"y":0.8},{"s":14,"x":1.09,"y":0},
      {"s":15,"x":-1.09,"y":0},{"s":15,"x":-1.025,"y":0.2},{"s":15,"x":-0.957,"y":0.5},{"s":15,"x":-0.888,"y":0.65},{"s":15,"x":-0.82,"y":0.85},{"s":15,"x":-0.752,"y":1.15},{"s":15,"x":-0.683,"y":1.5},{"s":15,"x":-0.615,"y":1.9},{"s":15,"x":-0.547,"y":2.35},{"s":15,"x":-0.478,"y":2.9},{"s":15,"x":-0.41,"y":3.5},{"s":15,"x":-0.342,"y":4.2},{"s":15,"x":-0.274,"y":4.9},{"s":15,"x":-0.205,"y":5.8},{"s":15,"x":-0.137,"y":6.9},{"s":15,"x":-0.069,"y":8},{"s":15,"x":0,"y":9.3},{"s":15,"x":0.068,"y":10.3},{"s":15,"x":0.137,"y":11.4},{"s":15,"x":0.205,"y":12.6},{"s":15,"x":0.273,"y":14.1},{"s":15,"x":0.342,"y":16.6},{"s":15,"x":0.41,"y":19.3},{"s":15,"x":0.478,"y":22.8},{"s":15,"x":0.546,"y":26.3},{"s":15,"x":0.615,"y":30.5},{"s":15,"x":0.683,"y":36},{"s":15,"x":0.751,"y":42.5},{"s":15,"x":0.82,"y":50.5},{"s":15,"x":0.855,"y":55},{"s":15,"x":0.888,"y":58.8},{"s":15,"x":0.915,"y":61.3},{"s":15,"x":0.94,"y":62},{"s":15,"x":0.965,"y":52},{"s":15,"x":0.99,"y":32},{"s":15,"x":1.015,"y":14.5},{"s":15,"x":1.04,"y":4.5},{"s":15,"x":1.065,"y":1},{"s":15,"x":1.09,"y":0},
      {"s":16,"x":-1.09,"y":0.05},{"s":16,"x":-1.025,"y":0.4},{"s":16,"x":-0.957,"y":0.65},{"s":16,"x":-0.888,"y":0.9},{"s":16,"x":-0.82,"y":1.2},{"s":16,"x":-0.752,"y":1.6},{"s":16,"x":-0.683,"y":2},{"s":16,"x":-0.615,"y":2.5},{"s":16,"x":-0.547,"y":3},{"s":16,"x":-0.478,"y":3.6},{"s":16,"x":-0.41,"y":4.3},{"s":16,"x":-0.342,"y":5},{"s":16,"x":-0.274,"y":5.9},{"s":16,"x":-0.205,"y":7},{"s":16,"x":-0.137,"y":8.1},{"s":16,"x":-0.069,"y":9.2},{"s":16,"x":0,"y":10.4},{"s":16,"x":0.068,"y":11.4},{"s":16,"x":0.137,"y":12.4},{"s":16,"x":0.205,"y":13.5},{"s":16,"x":0.273,"y":14.8},{"s":16,"x":0.342,"y":16.4},{"s":16,"x":0.41,"y":18.3},{"s":16,"x":0.478,"y":20.6},{"s":16,"x":0.546,"y":24.3},{"s":16,"x":0.615,"y":28.5},{"s":16,"x":0.683,"y":33.6},{"s":16,"x":0.751,"y":40},{"s":16,"x":0.82,"y":48.5},{"s":16,"x":0.855,"y":53},{"s":16,"x":0.888,"y":57.6},{"s":16,"x":0.915,"y":61},{"s":16,"x":0.94,"y":62.3},{"s":16,"x":0.965,"y":53},{"s":16,"x":0.99,"y":33},{"s":16,"x":1.015,"y":15},{"s":16,"x":1.04,"y":4.5},{"s":16,"x":1.065,"y":1},{"s":16,"x":1.09,"y":0},
      {"s":17,"x":-1.09,"y":0},{"s":17,"x":-1.025,"y":0.2},{"s":17,"x":-0.957,"y":0.5},{"s":17,"x":-0.888,"y":0.65},{"s":17,"x":-0.82,"y":0.85},{"s":17,"x":-0.752,"y":1.15},{"s":17,"x":-0.683,"y":1.5},{"s":17,"x":-0.615,"y":1.9},{"s":17,"x":-0.547,"y":2.35},{"s":17,"x":-0.478,"y":2.9},{"s":17,"x":-0.41,"y":3.5},{"s":17,"x":-0.342,"y":4.2},{"s":17,"x":-0.274,"y":4.9},{"s":17,"x":-0.205,"y":5.8},{"s":17,"x":-0.137,"y":6.9},{"s":17,"x":-0.069,"y":8},{"s":17,"x":0,"y":9.3},{"s":17,"x":0.068,"y":10.3},{"s":17,"x":0.137,"y":11.4},{"s":17,"x":0.205,"y":12.6},{"s":17,"x":0.273,"y":14.1},{"s":17,"x":0.342,"y":15.9},{"s":17,"x":0.41,"y":18.1},{"s":17,"x":0.478,"y":20.7},{"s":17,"x":0.546,"y":24.8},{"s":17,"x":0.615,"y":29},{"s":17,"x":0.683,"y":34.2},{"s":17,"x":0.751,"y":40.5},{"s":17,"x":0.82,"y":48},{"s":17,"x":0.855,"y":51.5},{"s":17,"x":0.888,"y":54},{"s":17,"x":0.915,"y":55},{"s":17,"x":0.94,"y":54},{"s":17,"x":0.965,"y":42},{"s":17,"x":0.99,"y":25},{"s":17,"x":1.015,"y":11},{"s":17,"x":1.04,"y":3.3},{"s":17,"x":1.065,"y":0.6},{"s":17,"x":1.09,"y":0},
      {"s":18,"x":-1.09,"y":0},{"s":18,"x":-1.025,"y":0.2},{"s":18,"x":-0.957,"y":0.5},{"s":18,"x":-0.888,"y":0.65},{"s":18,"x":-0.82,"y":0.85},{"s":18,"x":-0.752,"y":1.15},{"s":18,"x":-0.683,"y":1.5},{"s":18,"x":-0.615,"y":1.9},{"s":18,"x":-0.547,"y":2.35},{"s":18,"x":-0.478,"y":2.9},{"s":18,"x":-0.41,"y":3.5},{"s":18,"x":-0.342,"y":4.2},{"s":18,"x":-0.274,"y":4.9},{"s":18,"x":-0.205,"y":5.8},{"s":18,"x":-0.137,"y":6.9},{"s":18,"x":-0.069,"y":8},{"s":18,"x":0,"y":9.3},{"s":18,"x":0.068,"y":10.3},{"s":18,"x":0.137,"y":11.4},{"s":18,"x":0.205,"y":12.6},{"s":18,"x":0.273,"y":14.1},{"s":18,"x":0.342,"y":16.8},{"s":18,"x":0.41,"y":19.6},{"s":18,"x":0.478,"y":22.8},{"s":18,"x":0.546,"y":26.8},{"s":18,"x":0.615,"y":31.6},{"s":18,"x":0.683,"y":36.5},{"s":18,"x":0.751,"y":43.5},{"s":18,"x":0.82,"y":49},{"s":18,"x":0.855,"y":50.4},{"s":18,"x":0.888,"y":51},{"s":18,"x":0.915,"y":50},{"s":18,"x":0.94,"y":40},{"s":18,"x":0.965,"y":26.5},{"s":18,"x":0.99,"y":13},{"s":18,"x":1.015,"y":4.5},{"s":18,"x":1.04,"y":1.2},{"s":18,"x":1.065,"y":0.3},{"s":18,"x":1.09,"y":0},
      {"s":19,"x":-1.09,"y":0},{"s":19,"x":-1.025,"y":0.2},{"s":19,"x":-0.957,"y":0.5},{"s":19,"x":-0.888,"y":0.65},{"s":19,"x":-0.82,"y":0.85},{"s":19,"x":-0.752,"y":1.15},{"s":19,"x":-0.683,"y":1.5},{"s":19,"x":-0.615,"y":1.9},{"s":19,"x":-0.547,"y":2.35},{"s":19,"x":-0.478,"y":2.9},{"s":19,"x":-0.41,"y":3.5},{"s":19,"x":-0.342,"y":4.2},{"s":19,"x":-0.274,"y":4.9},{"s":19,"x":-0.205,"y":5.8},{"s":19,"x":-0.137,"y":6.9},{"s":19,"x":-0.069,"y":8},{"s":19,"x":0,"y":9.3},{"s":19,"x":0.068,"y":10.3},{"s":19,"x":0.137,"y":11.4},{"s":19,"x":0.205,"y":12.6},{"s":19,"x":0.273,"y":14.1},{"s":19,"x":0.342,"y":15.9},{"s":19,"x":0.41,"y":18.1},{"s":19,"x":0.478,"y":20.7},{"s":19,"x":0.546,"y":23.8},{"s":19,"x":0.615,"y":27.8},{"s":19,"x":0.683,"y":33.2},{"s":19,"x":0.751,"y":39.5},{"s":19,"x":0.82,"y":48},{"s":19,"x":0.855,"y":53},{"s":19,"x":0.888,"y":59.5},{"s":19,"x":0.915,"y":68.5},{"s":19,"x":0.94,"y":75.5},{"s":19,"x":0.965,"y":69},{"s":19,"x":0.99,"y":45},{"s":19,"x":1.015,"y":20},{"s":19,"x":1.04,"y":6},{"s":19,"x":1.065,"y":1.3},{"s":19,"x":1.09,"y":0},
      {"s":20,"x":-1.09,"y":0},{"s":20,"x":-1.025,"y":0.2},{"s":20,"x":-0.957,"y":0.5},{"s":20,"x":-0.888,"y":0.65},{"s":20,"x":-0.82,"y":0.85},{"s":20,"x":-0.752,"y":1.15},{"s":20,"x":-0.683,"y":1.5},{"s":20,"x":-0.615,"y":1.9},{"s":20,"x":-0.547,"y":2.35},{"s":20,"x":-0.478,"y":2.9},{"s":20,"x":-0.41,"y":3.5},{"s":20,"x":-0.342,"y":4.2},{"s":20,"x":-0.274,"y":4.9},{"s":20,"x":-0.205,"y":5.8},{"s":20,"x":-0.137,"y":6.9},{"s":20,"x":-0.069,"y":8},{"s":20,"x":0,"y":9.3},{"s":20,"x":0.068,"y":10.3},{"s":20,"x":0.137,"y":11.4},{"s":20,"x":0.205,"y":12.6},{"s":20,"x":0.273,"y":14.1},{"s":20,"x":0.342,"y":15.9},{"s":20,"x":0.41,"y":17.4},{"s":20,"x":0.478,"y":19.6},{"s":20,"x":0.546,"y":22.3},{"s":20,"x":0.615,"y":25.8},{"s":20,"x":0.683,"y":30.3},{"s":20,"x":0.751,"y":35.5},{"s":20,"x":0.82,"y":43},{"s":20,"x":0.855,"y":47.5},{"s":20,"x":0.888,"y":52.5},{"s":20,"x":0.915,"y":56.7},{"s":20,"x":0.94,"y":60},{"s":20,"x":0.965,"y":51},{"s":20,"x":0.99,"y":33},{"s":20,"x":1.015,"y":15},{"s":20,"x":1.04,"y":4.5},{"s":20,"x":1.065,"y":1},{"s":20,"x":1.09,"y":0},
      {"s":21,"x":-1.09,"y":0},{"s":21,"x":-1.025,"y":0.2},{"s":21,"x":-0.957,"y":0.5},{"s":21,"x":-0.888,"y":0.65},{"s":21,"x":-0.82,"y":0.85},{"s":21,"x":-0.752,"y":1.15},{"s":21,"x":-0.683,"y":1.5},{"s":21,"x":-0.615,"y":1.9},{"s":21,"x":-0.547,"y":2.35},{"s":21,"x":-0.478,"y":2.9},{"s":21,"x":-0.41,"y":3.5},{"s":21,"x":-0.342,"y":4.2},{"s":21,"x":-0.274,"y":4.9},{"s":21,"x":-0.205,"y":5.8},{"s":21,"x":-0.137,"y":6.9},{"s":21,"x":-0.069,"y":8},{"s":21,"x":0,"y":9.3},{"s":21,"x":0.068,"y":10.3},{"s":21,"x":0.137,"y":11.4},{"s":21,"x":0.205,"y":12.6},{"s":21,"x":0.273,"y":14.1},{"s":21,"x":0.342,"y":15.9},{"s":21,"x":0.41,"y":18.1},{"s":21,"x":0.478,"y":20.7},{"s":21,"x":0.546,"y":23.8},{"s":21,"x":0.615,"y":27.8},{"s":21,"x":0.683,"y":33.2},{"s":21,"x":0.751,"y":39},{"s":21,"x":0.82,"y":47},{"s":21,"x":0.855,"y":52.5},{"s":21,"x":0.888,"y":58.8},{"s":21,"x":0.915,"y":63.7},{"s":21,"x":0.94,"y":67.4},{"s":21,"x":0.965,"y":58},{"s":21,"x":0.99,"y":36},{"s":21,"x":1.015,"y":16},{"s":21,"x":1.04,"y":5},{"s":21,"x":1.065,"y":1},{"s":21,"x":1.09,"y":0},
      {"s":22,"x":-1.09,"y":0},{"s":22,"x":-1.025,"y":0.3},{"s":22,"x":-0.957,"y":0.7},{"s":22,"x":-0.888,"y":1.05},{"s":22,"x":-0.82,"y":1.45},{"s":22,"x":-0.752,"y":1.9},{"s":22,"x":-0.683,"y":2.45},{"s":22,"x":-0.615,"y":3},{"s":22,"x":-0.547,"y":3.6},{"s":22,"x":-0.478,"y":4.3},{"s":22,"x":-0.41,"y":5.1},{"s":22,"x":-0.342,"y":6},{"s":22,"x":-0.274,"y":7},{"s":22,"x":-0.205,"y":8.1},{"s":22,"x":-0.137,"y":9.3},{"s":22,"x":-0.069,"y":10.6},{"s":22,"x":0,"y":12},{"s":22,"x":0.068,"y":12.9},{"s":22,"x":0.137,"y":13.8},{"s":22,"x":0.205,"y":14.7},{"s":22,"x":0.273,"y":15.8},{"s":22,"x":0.342,"y":17},{"s":22,"x":0.41,"y":18.5},{"s":22,"x":0.478,"y":20.3},{"s":22,"x":0.546,"y":22.8},{"s":22,"x":0.615,"y":26.3},{"s":22,"x":0.683,"y":31},{"s":22,"x":0.751,"y":36.5},{"s":22,"x":0.82,"y":46.5},{"s":22,"x":0.855,"y":53.5},{"s":22,"x":0.888,"y":62.5},{"s":22,"x":0.915,"y":71.8},{"s":22,"x":0.94,"y":81.3},{"s":22,"x":0.965,"y":78},{"s":22,"x":0.99,"y":57},{"s":22,"x":1.015,"y":24},{"s":22,"x":1.04,"y":8},{"s":22,"x":1.065,"y":2},{"s":22,"x":1.09,"y":0.3},
      {"s":23,"x":-1.09,"y":0},{"s":23,"x":-1.025,"y":0.3},{"s":23,"x":-0.957,"y":0.7},{"s":23,"x":-0.888,"y":1.05},{"s":23,"x":-0.82,"y":1.45},{"s":23,"x":-0.752,"y":1.9},{"s":23,"x":-0.683,"y":2.45},{"s":23,"x":-0.615,"y":3},{"s":23,"x":-0.547,"y":3.6},{"s":23,"x":-0.478,"y":4.3},{"s":23,"x":-0.41,"y":5.1},{"s":23,"x":-0.342,"y":6},{"s":23,"x":-0.274,"y":7},{"s":23,"x":-0.205,"y":8.1},{"s":23,"x":-0.137,"y":9.3},{"s":23,"x":-0.069,"y":10.6},{"s":23,"x":0,"y":12},{"s":23,"x":0.068,"y":12.9},{"s":23,"x":0.137,"y":13.8},{"s":23,"x":0.205,"y":14.7},{"s":23,"x":0.273,"y":15.5},{"s":23,"x":0.342,"y":16.3},{"s":23,"x":0.41,"y":17},{"s":23,"x":0.478,"y":17.8},{"s":23,"x":0.546,"y":19},{"s":23,"x":0.615,"y":20.6},{"s":23,"x":0.683,"y":22.8},{"s":23,"x":0.751,"y":26},{"s":23,"x":0.82,"y":33.5},{"s":23,"x":0.855,"y":41.5},{"s":23,"x":0.888,"y":50.5},{"s":23,"x":0.915,"y":59},{"s":23,"x":0.94,"y":58},{"s":23,"x":0.965,"y":50},{"s":23,"x":0.99,"y":33},{"s":23,"x":1.015,"y":15},{"s":23,"x":1.04,"y":4.5},{"s":23,"x":1.065,"y":1},{"s":23,"x":1.09,"y":0},
      {"s":24,"x":-1.09,"y":0.05},{"s":24,"x":-1.025,"y":0.4},{"s":24,"x":-0.957,"y":1.1},{"s":24,"x":-0.888,"y":1.45},{"s":24,"x":-0.82,"y":1.85},{"s":24,"x":-0.752,"y":2.35},{"s":24,"x":-0.683,"y":2.9},{"s":24,"x":-0.615,"y":3.4},{"s":24,"x":-0.547,"y":4.1},{"s":24,"x":-0.478,"y":4.8},{"s":24,"x":-0.41,"y":5.6},{"s":24,"x":-0.342,"y":6.5},{"s":24,"x":-0.274,"y":7.5},{"s":24,"x":-0.205,"y":8.6},{"s":24,"x":-0.137,"y":9.9},{"s":24,"x":-0.069,"y":11.5},{"s":24,"x":0,"y":13.2},{"s":24,"x":0.068,"y":14.2},{"s":24,"x":0.137,"y":15.1},{"s":24,"x":0.205,"y":16},{"s":24,"x":0.273,"y":16.8},{"s":24,"x":0.342,"y":17.6},{"s":24,"x":0.41,"y":18.6},{"s":24,"x":0.478,"y":19.8},{"s":24,"x":0.546,"y":21.4},{"s":24,"x":0.615,"y":23.5},{"s":24,"x":0.683,"y":26.3},{"s":24,"x":0.751,"y":30.5},{"s":24,"x":0.82,"y":36.5},{"s":24,"x":0.855,"y":42},{"s":24,"x":0.888,"y":48.3},{"s":24,"x":0.915,"y":53},{"s":24,"x":0.94,"y":57.5},{"s":24,"x":0.965,"y":50},{"s":24,"x":0.99,"y":33},{"s":24,"x":1.015,"y":15},{"s":24,"x":1.04,"y":4.5},{"s":24,"x":1.065,"y":1},{"s":24,"x":1.09,"y":0},
      {"s":25,"x":-1.09,"y":0.1},{"s":25,"x":-1.025,"y":0.7},{"s":25,"x":-0.957,"y":1.1},{"s":25,"x":-0.888,"y":1.5},{"s":25,"x":-0.82,"y":2},{"s":25,"x":-0.752,"y":2.55},{"s":25,"x":-0.683,"y":3.15},{"s":25,"x":-0.615,"y":3.8},{"s":25,"x":-0.547,"y":4.5},{"s":25,"x":-0.478,"y":5},{"s":25,"x":-0.41,"y":5.6},{"s":25,"x":-0.342,"y":6.2},{"s":25,"x":-0.274,"y":6.9},{"s":25,"x":-0.205,"y":7.8},{"s":25,"x":-0.137,"y":8.8},{"s":25,"x":-0.069,"y":9.9},{"s":25,"x":0,"y":11},{"s":25,"x":0.068,"y":11.5},{"s":25,"x":0.137,"y":12.1},{"s":25,"x":0.205,"y":12.8},{"s":25,"x":0.273,"y":13.8},{"s":25,"x":0.342,"y":15},{"s":25,"x":0.41,"y":16.1},{"s":25,"x":0.478,"y":17.3},{"s":25,"x":0.546,"y":19.4},{"s":25,"x":0.615,"y":22.2},{"s":25,"x":0.683,"y":25.8},{"s":25,"x":0.751,"y":30.8},{"s":25,"x":0.82,"y":38.5},{"s":25,"x":0.855,"y":44},{"s":25,"x":0.888,"y":51},{"s":25,"x":0.915,"y":59},{"s":25,"x":0.94,"y":67},{"s":25,"x":0.965,"y":58},{"s":25,"x":0.99,"y":32},{"s":25,"x":1.015,"y":12},{"s":25,"x":1.04,"y":4.2},{"s":25,"x":1.065,"y":1.2},{"s":25,"x":1.09,"y":0}
    ]
  },
  "layer": [
    {
      "data": {"name": "bars"},
      "transform": [
        {"lookup": "k", "from": {"data": {"name": "bins"}, "key": "k", "fields": ["x0", "x1"]}},
        {"lookup": "s", "from": {"data": {"name": "series"}, "key": "s", "fields": ["label"]}}
      ],
      "mark": {"type": "bar", "fillOpacity": 0.86, "strokeOpacity": 0.86},
      "encoding": {
        "x": {
          "field": "x0", "type": "quantitative",
          "scale": {"domain": [-1.2, 1.2], "nice": false},
          "axis": {
            "values": [-1, -0.5, 0, 0.5, 1], "format": ".1f", "domain": false,
            "tickColor": "black", "tickWidth": 5, "tickSize": 26,
            "labelFontSize": 42, "labelPadding": 24, "labelFlush": false,
            "titleFontSize": 72, "titleFontStyle": "italic", "titleFontWeight": "normal",
            "titleBaseline": "alphabetic", "titleY": 172
          },
          "title": "ε"
        },
        "x2": {"field": "x1"},
        "y": {
          "field": "h", "type": "quantitative",
          "scale": {"domain": [0, 100], "nice": false},
          "axis": {
            "domain": false, "ticks": false, "labels": false,
            "titleFontSize": 72, "titleFontWeight": "normal",
            "titleBaseline": "alphabetic", "titleAngle": -90, "titleX": -47, "titleY": 403, "titleAlign": "center"
          },
          "title": "%"
        },
        "y2": {"datum": 0},
        "strokeWidth": {"condition": {"test": "datum.s === 25", "value": 3.5}, "value": 0},
        "fill": {
          "field": "label", "type": "nominal",
          "scale": {
            "domain": ["(1):45%","(2):55%","(3):47%","(4):54%","(5):51%","(6):46%","(7):42%","(8):45%","(9):55%","(10):50%","(11):53%","(12):43%","(13):47%","(14):44%","(15):47%","(16):48%","(17):45%","(18):42%","(19):52%","(20):45%","(21):51%","(22):49%","(23):46%","(24):42%","(25):49%"],
            "range": ["#000000","#5c0064","#820090","#4300a3","#0000b5","#0010db","#0075db","#0090db","#00a3bf","#00a899","#00a362","#009a00","#00b500","#00d600","#00f300","#6bf300","#c8f300","#eded00","#ffc800","#ff9600","#ff2b00","#eb0505","#ce0000","#c82a2a","#cbcbcb"]
          },
          "legend": {
            "title": null, "orient": "none", "legendX": 28, "legendY": 29, "columns": 5,
            "symbolType": "M-1.4,-1.06H3.81V1.06H-1.4Z", "symbolSize": 576, "symbolOpacity": 0.86, "symbolStrokeWidth": 0,
            "labelFont": "DejaVu Sans", "labelFontSize": 28, "labelColor": "black", "labelOffset": 50, "labelLimit": 300,
            "columnPadding": 57, "rowPadding": 15, "padding": 12,
            "strokeColor": "#d6d6d6", "fillColor": "white", "cornerRadius": 9
          }
        },
        "stroke": {
          "field": "label", "type": "nominal",
          "scale": {
            "domain": ["(1):45%","(2):55%","(3):47%","(4):54%","(5):51%","(6):46%","(7):42%","(8):45%","(9):55%","(10):50%","(11):53%","(12):43%","(13):47%","(14):44%","(15):47%","(16):48%","(17):45%","(18):42%","(19):52%","(20):45%","(21):51%","(22):49%","(23):46%","(24):42%","(25):49%"],
            "range": ["#000000","#5c0064","#820090","#4300a3","#0000b5","#0010db","#0075db","#0090db","#00a3bf","#00a899","#00a362","#009a00","#00b500","#00d600","#00f300","#6bf300","#c8f300","#eded00","#ffc800","#ff9600","#ff2b00","#eb0505","#ce0000","#c82a2a","#cbcbcb"]
          },
          "legend": null
        }
      }
    },
    {
      "data": {"name": "kde"},
      "transform": [
        {"lookup": "s", "from": {"data": {"name": "series"}, "key": "s", "fields": ["label"]}}
      ],
      "mark": {"type": "line", "strokeWidth": 6.5, "interpolate": "monotone"},
      "encoding": {
        "x": {"field": "x", "type": "quantitative"},
        "y": {"field": "y", "type": "quantitative"},
        "stroke": {"field": "label", "type": "nominal", "legend": null}
      }
    }
  ]
}
